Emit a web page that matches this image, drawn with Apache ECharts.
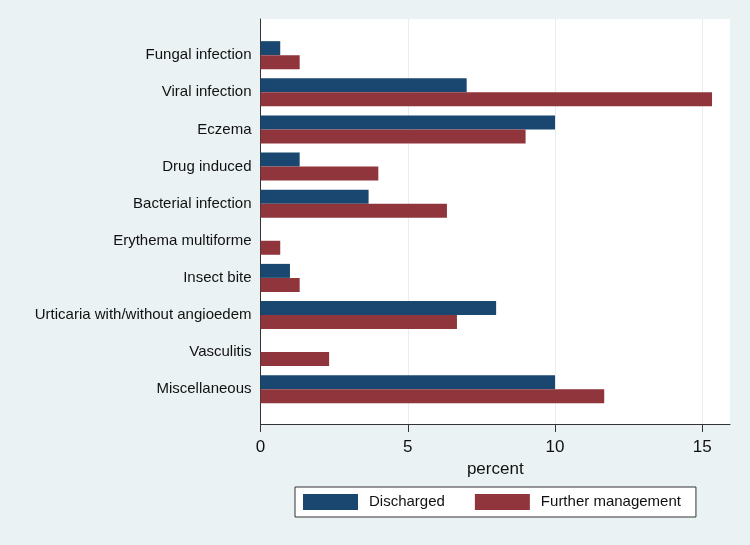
<!DOCTYPE html>
<html>
<head>
<meta charset="utf-8">
<script src="https://cdn.jsdelivr.net/npm/echarts@6/dist/echarts.min.js"></script>
<style>
html,body{margin:0;padding:0;background:#eaf2f3;}
#chart{width:750px;height:545px;}
</style>
</head>
<body>
<div id="chart"></div>
<script>
const categories = ["Fungal infection","Viral infection","Eczema","Drug induced","Bacterial infection","Erythema multiforme","Insect bite","Urticaria with/without angioedem","Vasculitis","Miscellaneous"];
const discharged = [0.67, 7.0, 10.0, 1.33, 3.67, 0, 1.0, 8.0, 0, 10.0];
const furtherManagement = [1.33, 15.33, 9.0, 4.0, 6.33, 0.67, 1.33, 6.67, 2.33, 11.67];
const xTicks = [0, 5, 10, 15];
const xMax = 15.94;

const chart = echarts.init(document.getElementById('chart'), null, {renderer:'canvas'});
const font = 'Liberation Sans, Arial, sans-serif';
chart.setOption({
  animation: false,
  backgroundColor: '#eaf2f3',
  textStyle: {fontFamily: font},
  grid: [
    {left: 260.5, right: 20, top: 19, bottom: 121, show: true, backgroundColor: '#ffffff', borderWidth: 0},
    {left: 260.5, right: 20, top: 36.6, bottom: 137.2, show: false}
  ],
  legend: {
    data: ['Discharged', 'Further management'],
    left: 295, top: 487,
    padding: [7, 15, 7, 8],
    itemWidth: 55, itemHeight: 16, itemGap: 30,
    icon: 'rect',
    backgroundColor: '#ffffff',
    borderColor: '#333333', borderWidth: 1, borderRadius: 0,
    textStyle: {fontSize: 15, color: '#111', fontFamily: font, padding: [0, 0, 0, 6]}
  },
  xAxis: [
    {
      gridIndex: 0, type: 'value', min: 0, max: xMax,
      name: 'percent', nameLocation: 'middle', nameGap: 33,
      nameTextStyle: {fontSize: 17, color: '#111', fontFamily: font},
      axisLine: {show: true, onZero: false, lineStyle: {color: '#333', width: 1}},
      axisTick: {show: true, length: 8, lineStyle: {color: '#333'}, customValues: xTicks},
      axisLabel: {fontSize: 17, color: '#111', margin: 15, customValues: xTicks, fontFamily: font},
      splitLine: {show: true, lineStyle: {color: '#e6eef0', width: 1}}
    },
    {
      gridIndex: 1, type: 'value', min: 0, max: xMax, show: false
    }
  ],
  yAxis: [
    {
      gridIndex: 0, type: 'value', min: 0, max: 1,
      axisLine: {show: true, lineStyle: {color: '#333', width: 1}},
      axisTick: {show: false}, axisLabel: {show: false}, splitLine: {show: false}
    },
    {
      gridIndex: 1, type: 'category', data: categories, inverse: true,
      axisLine: {show: false}, axisTick: {show: false},
      axisLabel: {fontSize: 15, color: '#111', margin: 9, fontFamily: font}
    }
  ],
  series: [
    {
      name: 'Discharged', type: 'bar', xAxisIndex: 1, yAxisIndex: 1,
      data: discharged, barWidth: 14, barGap: '0%',
      itemStyle: {color: '#1a476f'}
    },
    {
      name: 'Further management', type: 'bar', xAxisIndex: 1, yAxisIndex: 1,
      data: furtherManagement, barWidth: 14, barGap: '0%',
      itemStyle: {color: '#90353b'}
    }
  ]
});
</script>
</body>
</html>
